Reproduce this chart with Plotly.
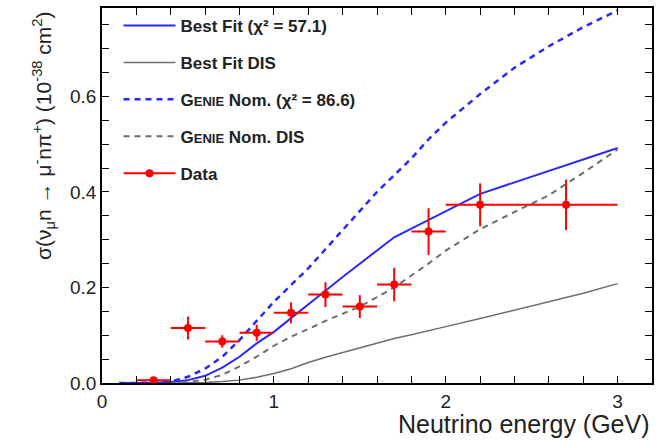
import plotly.graph_objects as go

# Model curves (x in GeV, sigma in 1e-38 cm^2)
fit_x = [0.1, 0.2, 0.3, 0.4, 0.5, 0.6, 0.7, 0.8, 0.9, 1.0, 1.1, 1.2, 1.3, 1.4, 1.5, 1.6, 1.7,
         1.8, 1.9, 2.0, 2.2, 2.4, 2.6, 2.8, 3.0]
best_fit = [0.0, 0.0, 0.0005, 0.002, 0.006, 0.015, 0.032, 0.055, 0.083, 0.107, 0.135, 0.165,
            0.193, 0.222, 0.25, 0.277, 0.305, 0.323, 0.341, 0.359, 0.396, 0.42, 0.444, 0.468, 0.492]
genie_nom = [0.0, 0.0, 0.0005, 0.003, 0.013, 0.03, 0.055, 0.09, 0.13, 0.17, 0.205, 0.24,
             0.28, 0.32, 0.36, 0.4, 0.435, 0.47, 0.51, 0.545, 0.605, 0.66, 0.705, 0.745, 0.78]

dis_x = [0.4, 0.5, 0.6, 0.7, 0.8, 0.9, 1.0, 1.1, 1.2, 1.3, 1.4, 1.5, 1.6, 1.7, 1.8, 1.9, 2.0,
         2.2, 2.4, 2.6, 2.8, 3.0]
best_fit_dis = [0.0, 0.0, 0.001, 0.003, 0.006, 0.012, 0.02, 0.03, 0.043, 0.054, 0.064, 0.074,
                0.084, 0.093, 0.101, 0.11, 0.118, 0.135, 0.153, 0.17, 0.188, 0.208]
genie_dis = [0.0, 0.002, 0.007, 0.017, 0.035, 0.055, 0.078, 0.097, 0.113, 0.13, 0.145, 0.16,
             0.18, 0.2, 0.225, 0.25, 0.277, 0.322, 0.358, 0.393, 0.44, 0.489]

# Data points
data_x = [0.3, 0.5, 0.7, 0.9, 1.1, 1.3, 1.5, 1.7, 1.9, 2.2, 2.7]
data_xerr = [0.1, 0.1, 0.1, 0.1, 0.1, 0.1, 0.1, 0.1, 0.1, 0.2, 0.3]
data_y = [0.006, 0.115, 0.087, 0.105, 0.147, 0.185, 0.160, 0.206, 0.317, 0.373, 0.373]
data_yerr = [0.004, 0.024, 0.013, 0.017, 0.022, 0.026, 0.024, 0.035, 0.049, 0.045, 0.053]

x_ticks = [0, 1, 2, 3]
y_ticks = [0.0, 0.2, 0.4, 0.6]

BLUE = "rgb(40,40,255)"
GRAY = "rgb(110,110,110)"
RED = "rgb(255,0,0)"
FONT = "Liberation Sans, Arial"
SC = "<span style='font-size:13px'>ENIE</span>"

fig = go.Figure()
fig.add_trace(go.Scatter(x=fit_x, y=best_fit, mode="lines", name="Best Fit (χ² = 57.1)",
                         line=dict(color=BLUE, width=2), legendgroup="a"))
fig.add_trace(go.Scatter(x=dis_x, y=best_fit_dis, mode="lines", name="Best Fit DIS",
                         line=dict(color=GRAY, width=1.5), legendgroup="b"))
fig.add_trace(go.Scatter(x=fit_x, y=genie_nom, mode="lines",
                         name="G" + SC + " Nom. (χ² = 86.6)",
                         line=dict(color=BLUE, width=2.5, dash="6px,5px"), legendgroup="c"))
fig.add_trace(go.Scatter(x=dis_x, y=genie_dis, mode="lines",
                         name="G" + SC + " Nom. DIS",
                         line=dict(color=GRAY, width=2, dash="6px,5px"), legendgroup="d"))
fig.add_trace(go.Scatter(x=data_x, y=data_y, mode="markers", showlegend=False,
                         marker=dict(color=RED, size=8),
                         error_x=dict(type="data", array=data_xerr, color=RED, thickness=2, width=0),
                         error_y=dict(type="data", array=data_yerr, color=RED, thickness=2, width=0)))
fig.add_trace(go.Scatter(x=[None], y=[None], mode="lines+markers", name="Data",
                         line=dict(color=RED, width=2), marker=dict(color=RED, size=8),
                         legendgroup="e"))

axis_common = dict(showline=True, linecolor="black", linewidth=1.5, mirror="ticks",
                   ticks="inside", ticklen=7, tickwidth=1.2, tickcolor="black",
                   showgrid=False, zeroline=False,
                   tickfont=dict(family=FONT, size=19, color="#222"))

fig.update_layout(
    width=666, height=443,
    margin=dict(l=102, r=14, t=6, b=60),
    paper_bgcolor="white", plot_bgcolor="white",
    xaxis=dict(range=[0, 3.2], tickvals=x_ticks, ticktext=[str(v) for v in x_ticks],
               minor=dict(dtick=0.2, tick0=0, ticks="inside", ticklen=7, tickcolor="black"),
               **axis_common),
    yaxis=dict(range=[0, 0.785], tickvals=y_ticks, ticktext=[f"{v:.1f}" for v in y_ticks],
               minor=dict(dtick=0.05, tick0=0, ticks="inside", ticklen=7, tickcolor="black"),
               **axis_common),
    legend=dict(x=0.03, y=1.0, xanchor="left", yanchor="top", bgcolor="rgba(0,0,0,0)",
                traceorder="grouped", tracegroupgap=11.8, itemwidth=52,
                font=dict(family=FONT, size=17, color="#222", weight="bold")),
    showlegend=True,
)

fig.add_annotation(text="Neutrino energy (GeV)", xref="paper", yref="paper", x=1.0, y=0,
                   xanchor="right", yanchor="top", yshift=-25, showarrow=False,
                   font=dict(family=FONT, size=25, color="#222"))
fig.add_annotation(text="σ(ν<sub>μ</sub>n → μ<sup>-</sup>nπ<sup>+</sup>) (10<sup>-38</sup> cm<sup>2</sup>)",
                   xref="paper", yref="paper", x=0, y=1.0, xanchor="center", yanchor="top",
                   xshift=-59, yshift=-2, textangle=-90, showarrow=False,
                   font=dict(family=FONT, size=21, color="#222"))

fig.write_html("out.html", config={"displayModeBar": False},
               post_script="document.body.style.margin='0';")
